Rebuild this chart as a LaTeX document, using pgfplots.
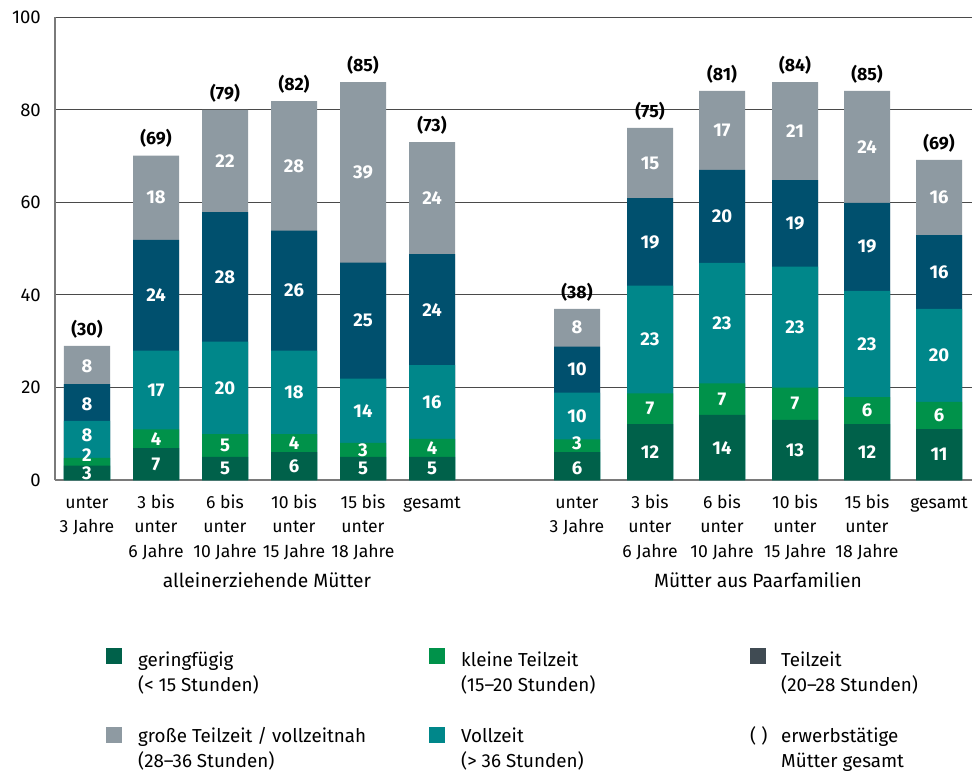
\documentclass[border=0pt]{standalone}
\usepackage{pgfplots}
\pgfplotsset{compat=1.18}
\usepackage{pgfplotstable}
\usepackage{fontspec}
\setmainfont{Fira Sans}
\definecolor{cG}{HTML}{00614A}
\definecolor{cK}{HTML}{00924A}
\definecolor{cV}{HTML}{00878A}
\definecolor{cT}{HTML}{00506E}
\definecolor{cTleg}{HTML}{404B53}
\definecolor{cGr}{HTML}{8E9AA2}
\definecolor{axgray}{HTML}{7A7A7A}
\definecolor{gridgray}{HTML}{4A4A4A}
\pgfplotstableread{
x g k v t gr yg yk yv yt ygr lg lk lv lt lgr tot
87 3.1 1.7 8.0 7.9 8.3 1.5 5.4 9.7 16.4 24.6 3 2 8 8 8 (30)
156 6.9 4.05 17 23.95 18.2 3.45 8.9 19.45 39.9 61.0 7 4 17 24 18 (69)
225 5 4.9 20 28 22.1 2.5 7.45 19.9 43.9 68.95 5 5 20 28 22 (79)
294 6.05 3.85 18.05 25.95 28 3.0 7.95 18.9 40.9 67.9 6 4 18 26 28 (82)
363 5 3 13.9 25.1 39 2.5 6.5 14.95 34.45 66.5 5 3 14 25 39 (85)
432 5 3.9 15.95 23.95 24.2 2.5 6.95 16.9 36.8 60.9 5 4 16 24 24 (73)
577 6.05 2.75 10.1 9.9 8.2 2.6 8.0 13.85 23.85 32.9 6 3 10 10 8 (38)
650 12.1 6.6 23.3 18.9 15.2 6.05 15.4 30.35 51.45 68.5 12 7 23 19 15 (75)
722 14.05 6.85 26 20.1 17.1 7.0 17.5 33.9 56.95 75.55 14 7 23 20 17 (81)
795 13.0 6.95 26.15 18.7 21.2 6.5 16.5 33.0 55.45 75.4 13 7 23 19 21 (84)
867 12.1 5.8 23.0 19.0 24.2 6.05 15.0 29.4 50.4 72.0 12 6 23 19 24 (85)
939 11.0 5.9 20.1 15.9 16.3 5.5 13.95 26.95 44.95 61.05 11 6 20 16 16 (69)
}\data
\begin{document}
\begin{tikzpicture}
\useasboundingbox (0,0) rectangle (973pt,774pt);
\begin{axis}[
  at={(55pt,294pt)}, anchor=south west,
  scale only axis, width=917pt, height=462.7pt,
  xmin=55, xmax=972, ymin=0, ymax=100,
  axis lines*=left,
  axis line style={draw=axgray, line width=1.6pt},
  ytick={0,20,40,60,80,100},
  ymajorgrids, grid style={draw=gridgray, line width=0.9pt},
  major tick length=0pt,
  xtick={87,156,225,294,363,432,577,650,722,795,867,939},
  xticklabels={{\strut unter\\3 Jahre},{\strut 3 bis\\unter\\6 Jahre},{\strut 6 bis\\unter\\10 Jahre},{\strut 10 bis\\unter\\15 Jahre},{\strut 15 bis\\unter\\18 Jahre},{\strut gesamt},
               {\strut unter\\3 Jahre},{\strut 3 bis\\unter\\6 Jahre},{\strut 6 bis\\unter\\10 Jahre},{\strut 10 bis\\unter\\15 Jahre},{\strut 15 bis\\unter\\18 Jahre},{\strut gesamt}},
  xticklabel style={align=center, anchor=north, inner sep=0pt, yshift=-11.2pt, font=\fontsize{17.6}{24.3}\selectfont, text=black},
  yticklabel style={anchor=east, inner sep=0pt, xshift=-14pt, font=\fontsize{18.5}{18.5}\selectfont},
  /pgf/number format/assume math mode=true,
  clip=false,
  segl/.style={draw=none, mark=none, nodes near coords, point meta=explicit symbolic,
    nodes near coords style={anchor=center, inner sep=0pt, text=white, font=\fontsize{18.5}{18.5}\selectfont\bfseries}},
]
\addplot[ybar, bar width=46, bar shift=0pt, fill=cGr, draw=none] table[x=x, y expr=\thisrow{g}+\thisrow{k}+\thisrow{v}+\thisrow{t}+\thisrow{gr}] {\data};
\addplot[ybar, bar width=46, bar shift=0pt, fill=cT, draw=none] table[x=x, y expr=\thisrow{g}+\thisrow{k}+\thisrow{v}+\thisrow{t}] {\data};
\addplot[ybar, bar width=46, bar shift=0pt, fill=cV, draw=none] table[x=x, y expr=\thisrow{g}+\thisrow{k}+\thisrow{v}] {\data};
\addplot[ybar, bar width=46, bar shift=0pt, fill=cK, draw=none] table[x=x, y expr=\thisrow{g}+\thisrow{k}] {\data};
\addplot[ybar, bar width=46, bar shift=0pt, fill=cG, draw=none] table[x=x, y=g] {\data};
\addplot[segl] table[x=x, y=yg, meta=lg] {\data};
\addplot[segl] table[x=x, y=yk, meta=lk] {\data};
\addplot[segl] table[x=x, y=yv, meta=lv] {\data};
\addplot[segl] table[x=x, y=yt, meta=lt] {\data};
\addplot[segl] table[x=x, y=ygr, meta=lgr] {\data};
\addplot[draw=none, mark=none, nodes near coords, point meta=explicit symbolic,
    nodes near coords style={anchor=base, inner sep=0pt, yshift=10.7pt, text=black, font=\fontsize{17.8}{17.8}\selectfont\bfseries}]
  table[x=x, y expr=\thisrow{g}+\thisrow{k}+\thisrow{v}+\thisrow{t}+\thisrow{gr}, meta=tot] {\data};
\end{axis}
\begin{scope}[every node/.style={inner sep=0pt, font=\fontsize{18.8}{18.8}\selectfont}]
\node[anchor=base, font=\fontsize{19.2}{19.2}\selectfont] at (267pt,187pt) {alleinerziehende Mütter};
\node[anchor=base, font=\fontsize{19.2}{19.2}\selectfont] at (758pt,187pt) {Mütter aus Paarfamilien};
% legend
\fill[cG] (106pt,110pt) rectangle (122pt,126pt);
\fill[cK] (429pt,110pt) rectangle (445pt,126pt);
\fill[cTleg] (750pt,110pt) rectangle (766pt,126pt);
\fill[cGr] (106pt,31pt) rectangle (122pt,47pt);
\fill[cV] (429pt,31pt) rectangle (445pt,47pt);
\node[anchor=base west] at (138pt,108pt) {geringfügig};
\node[anchor=base west] at (138pt,83pt) {(< 15 Stunden)};
\node[anchor=base west] at (461pt,108pt) {kleine Teilzeit};
\node[anchor=base west] at (461pt,83pt) {(15–20 Stunden)};
\node[anchor=base west] at (781pt,108pt) {Teilzeit};
\node[anchor=base west] at (781pt,83pt) {(20–28 Stunden)};
\node[anchor=base west] at (138pt,32pt) {große Teilzeit / vollzeitnah};
\node[anchor=base west] at (138pt,7pt) {(28–36 Stunden)};
\node[anchor=base west] at (461pt,32pt) {Vollzeit};
\node[anchor=base west] at (461pt,7pt) {(> 36 Stunden)};
\node[anchor=base west] at (750pt,32pt) {( )};
\node[anchor=base west] at (781pt,32pt) {erwerbstätige};
\node[anchor=base west] at (781pt,7pt) {Mütter gesamt};
\end{scope}
\end{tikzpicture}
\end{document}
